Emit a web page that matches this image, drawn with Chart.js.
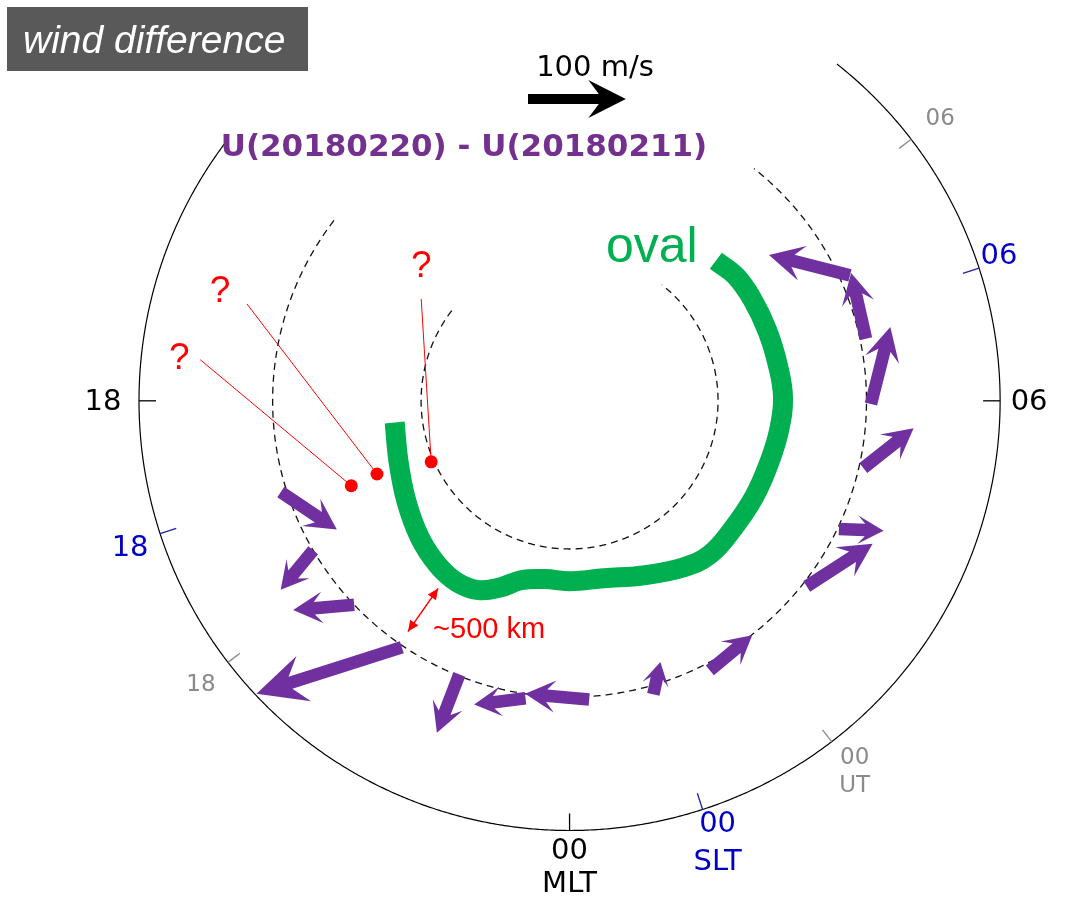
<!DOCTYPE html>
<html>
<head>
<meta charset="utf-8">
<title>wind difference</title>
<script src="https://cdn.jsdelivr.net/npm/chart.js@4.4.1/dist/chart.umd.min.js"></script>
<style>
  html, body { margin: 0; padding: 0; background: #ffffff; overflow: hidden; }
  #wrap { width: 1067px; height: 915px; }
</style>
</head>
<body>
<div id="wrap"><canvas id="polar" width="1067" height="915"></canvas></div>
<script>
// Thermospheric wind difference U(20180220) - U(20180211), MLT / MLAT polar view (north pole at centre)

// wind-difference vectors: tail position, east (toward later MLT) and north (poleward) components in m/s
const windMLT   = [19.17, 20.02, 20.90, 21.72, 22.54, 0.25, 23.44, 1.06, 1.83, 3.46, 4.30, 5.14, 5.96, 6.79, 7.61];
const windMLAT  = [69.6, 70.0, 70.0, 69.9, 70.1, 69.8, 69.7, 69.4, 69.5, 69.7, 69.9, 69.7, 69.7, 69.6, 69.3];
const windEast  = [54, 18, -39, -96, 1, -65, -51, 16, 55, 76, 18, 51, 79, 69, 53];
const windNorth = [43, -49, -49, -123, -64, 10, -14, 30, 12, -26, -42, -41, -19, 1, 67];

// auroral oval trace
const ovalMLT  = [18.47, 19.31, 20.11, 20.82, 21.41, 21.88, 22.29, 22.64, 22.99, 23.47, 0.00, 0.73, 1.53,
                  2.28, 2.82, 3.45, 4.17, 4.85, 5.46, 6.05, 6.63, 7.29, 7.94, 8.47, 8.92];
const ovalMLAT = [78.13, 77.77, 77.09, 76.34, 75.81, 75.60, 75.83, 76.55, 77.45, 77.85, 77.82, 77.80, 77.21,
                  76.40, 75.97, 76.02, 75.98, 75.92, 75.75, 75.62, 75.76, 75.86, 75.91, 75.99, 76.35];

// unexplained features marked with "?"
const markMLT  = [19.42, 19.39, 19.59];
const markMLAT = [74.22, 76.12, 79.81];

// distance between the 70° ring and the oval
const gapMLT  = 21.67;
const gapMLAT = [71.0, 74.55];

// rings, hour ticks and the reference vector
const outerMLAT = 61;
const ringMLAT  = [80, 70];
const ringFromMLT = 15.5, ringToMLT = 9.45;
const mltTicks = [18, 6, 0],       mltTickLabels = ['18', '06', '00'];
const sltTicks = [19.2, 7.2, 1.2], sltTickLabels = ['18', '06', '00'];
const utTicks  = [20.5, 8.5, 2.5], utTickLabels  = ['18', '06', '00'];
const refSpeed = 100; // m/s

// ---------------------------------------------------------------------------
const PURPLE = '#7030A0', GREEN = '#00B050', RED = '#FF0000';
const ARROW_DEG_PER_MS = 0.0659;   // vector length in degrees of colatitude per m/s

function polarXY(mlt, mlat) {
  const th = (mlt - 6) * Math.PI / 12;
  const c = 90 - mlat;
  return { x: c * Math.cos(th), y: c * Math.sin(th) };
}

const tickStyle = [
  { ticks: mltTicks, labels: mltTickLabels, color: '#000000', tick: '#000000', font: '29px "DejaVu Sans"', len: 17,
    offs: [[-36, 2], [29, 2], [0, 21]], sub: { text: 'MLT', off: [0, 54] } },
  { ticks: sltTicks, labels: sltTickLabels, color: '#0000C8', tick: '#2020A0', font: '29px "DejaVu Sans"', len: 17,
    offs: [[-30, 15], [20, -12], [15, 15]], sub: { text: 'SLT', off: [15, 53] } },
  { ticks: utTicks, labels: utTickLabels, color: '#8A8A8A', tick: '#8A8A8A', font: '23px "DejaVu Sans"', len: 15,
    offs: [[-27, 23], [29, -20], [23, 16]], sub: { text: 'UT', off: [23, 44] } }
];

// callouts: line end and "?" position relative to each marked dot, in px
const callouts = [
  { line: [-151, -126], label: [-172, -127] },
  { line: [-130, -170], label: [-157, -182] },
  { line: [-10, -163],  label: [-10, -195] }
];

function arrowPath(ctx, x0, y0, x1, y1, shaftHalf) {
  const dx = x1 - x0, dy = y1 - y0, L = Math.hypot(dx, dy);
  if (L < 1) return;
  const ux = dx / L, uy = dy / L, vx = -uy, vy = ux;
  const H = Math.min(16 + 0.22 * L, 0.85 * L);
  const W = 0.4 * H + 4;
  const J = 0.72 * H;
  const s = shaftHalf;
  ctx.beginPath();
  ctx.moveTo(x0 + vx * s, y0 + vy * s);
  ctx.lineTo(x1 - ux * J + vx * s, y1 - uy * J + vy * s);
  ctx.lineTo(x1 - ux * H + vx * W, y1 - uy * H + vy * W);
  ctx.lineTo(x1, y1);
  ctx.lineTo(x1 - ux * H - vx * W, y1 - uy * H - vy * W);
  ctx.lineTo(x1 - ux * J - vx * s, y1 - uy * J - vy * s);
  ctx.lineTo(x0 - vx * s, y0 - vy * s);
  ctx.closePath();
  ctx.fill();
}

function smallHead(ctx, xt, yt, xf, yf, len, half) {
  const dx = xt - xf, dy = yt - yf, L = Math.hypot(dx, dy);
  const ux = dx / L, uy = dy / L, vx = -uy, vy = ux;
  ctx.beginPath();
  ctx.moveTo(xt, yt);
  ctx.lineTo(xt - ux * len + vx * half, yt - uy * len + vy * half);
  ctx.lineTo(xt - ux * len - vx * half, yt - uy * len - vy * half);
  ctx.closePath();
  ctx.fill();
}

const overlay = {
  id: 'polarOverlay',
  beforeDatasetsDraw(chart) {
    const ctx = chart.ctx, xs = chart.scales.x, ys = chart.scales.y;
    const P = (x, y) => [xs.getPixelForValue(x), ys.getPixelForValue(y)];
    const PP = (mlt, mlat) => { const q = polarXY(mlt, mlat); return P(q.x, q.y); };
    const [cx, cy] = P(0, 0);

    const ring = (mlat) => {
      ctx.beginPath();
      const end = ringToMLT + 24;
      for (let m = ringFromMLT; m <= end + 1e-9; m += 0.02) {
        const [px, py] = PP(m, mlat);
        if (m === ringFromMLT) ctx.moveTo(px, py); else ctx.lineTo(px, py);
      }
      ctx.stroke();
    };

    ctx.save();
    ctx.strokeStyle = '#000000';
    ctx.lineWidth = 1.2;
    ring(outerMLAT);
    ctx.setLineDash([7, 5]);
    ctx.lineWidth = 1.3;
    ctx.strokeStyle = '#111111';
    ringMLAT.forEach(ring);
    ctx.setLineDash([]);

    // hour ticks and their labels
    ctx.textAlign = 'center';
    ctx.textBaseline = 'middle';
    tickStyle.forEach(st => {
      st.ticks.forEach((t, i) => {
        const [ox, oy] = PP(t, outerMLAT);
        const d = Math.hypot(ox - cx, oy - cy);
        const ux = (ox - cx) / d, uy = (oy - cy) / d;
        ctx.strokeStyle = st.tick;
        ctx.lineWidth = 1.3;
        ctx.beginPath();
        ctx.moveTo(ox, oy);
        ctx.lineTo(ox - ux * st.len, oy - uy * st.len);
        ctx.stroke();
        ctx.fillStyle = st.color;
        ctx.font = st.font;
        ctx.fillText(st.labels[i], ox + st.offs[i][0], oy + st.offs[i][1]);
        if (st.labels[i] === '00') ctx.fillText(st.sub.text, ox + st.sub.off[0], oy + st.sub.off[1]);
      });
    });

    // callout lines to the marked features
    ctx.strokeStyle = RED;
    ctx.lineWidth = 1;
    markMLT.forEach((m, i) => {
      const [dx, dy] = PP(m, markMLAT[i]);
      ctx.beginPath();
      ctx.moveTo(dx, dy);
      ctx.lineTo(dx + callouts[i].line[0], dy + callouts[i].line[1]);
      ctx.stroke();
    });
    ctx.restore();
  },
  afterDatasetsDraw(chart) {
    const ctx = chart.ctx, xs = chart.scales.x, ys = chart.scales.y;
    const P = (x, y) => [xs.getPixelForValue(x), ys.getPixelForValue(y)];
    const PP = (mlt, mlat) => { const q = polarXY(mlt, mlat); return P(q.x, q.y); };
    ctx.save();

    // wind-difference vectors
    ctx.fillStyle = PURPLE;
    windMLT.forEach((m, i) => {
      const th = (m - 6) * Math.PI / 12;
      const q = polarXY(m, windMLAT[i]);
      const ex = -Math.sin(th), ey = Math.cos(th);
      const nx = -Math.cos(th), ny = -Math.sin(th);
      const tx = q.x + ARROW_DEG_PER_MS * (windEast[i] * ex + windNorth[i] * nx);
      const ty = q.y + ARROW_DEG_PER_MS * (windEast[i] * ey + windNorth[i] * ny);
      const [x0, y0] = P(q.x, q.y);
      const [x1, y1] = P(tx, ty);
      arrowPath(ctx, x0, y0, x1, y1, 6.3);
    });

    // reference vector
    const pxPerMs = xs.getPixelForValue(ARROW_DEG_PER_MS) - xs.getPixelForValue(0);
    ctx.fillStyle = '#000000';
    arrowPath(ctx, 528, 99, 528 + refSpeed * pxPerMs, 99, 5);
    ctx.font = '29px "DejaVu Sans"';
    ctx.textAlign = 'center';
    ctx.textBaseline = 'middle';
    ctx.fillText(refSpeed + ' m/s', 595, 68);

    // title
    ctx.fillStyle = '#73308F';
    ctx.font = 'bold 31px "DejaVu Sans"';
    ctx.fillText('U(20180220) - U(20180211)', 464, 148);

    // oval label
    ctx.fillStyle = GREEN;
    ctx.font = '50px "Liberation Sans"';
    ctx.textAlign = 'left';
    ctx.textBaseline = 'alphabetic';
    ctx.fillText('oval', 606, 262);

    // "?" labels
    ctx.fillStyle = RED;
    ctx.font = '37px "Liberation Sans"';
    ctx.textAlign = 'center';
    ctx.textBaseline = 'middle';
    markMLT.forEach((m, i) => {
      const [dx, dy] = PP(m, markMLAT[i]);
      ctx.fillText('?', dx + callouts[i].label[0], dy + callouts[i].label[1]);
    });

    // distance marker between the 70° ring and the oval
    const [ax, ay] = PP(gapMLT, gapMLAT[0]);
    const [bx, by] = PP(gapMLT, gapMLAT[1]);
    ctx.strokeStyle = RED;
    ctx.lineWidth = 1.5;
    ctx.beginPath();
    ctx.moveTo(ax, ay);
    ctx.lineTo(bx, by);
    ctx.stroke();
    smallHead(ctx, ax, ay, bx, by, 11, 5);
    smallHead(ctx, bx, by, ax, ay, 11, 5);
    ctx.font = '29px "Liberation Sans"';
    ctx.textAlign = 'left';
    ctx.textBaseline = 'alphabetic';
    ctx.fillText('~500 km', (ax + bx) / 2 + 10, (ay + by) / 2 + 28);

    // panel tag
    ctx.fillStyle = '#595959';
    ctx.fillRect(7, 7, 301, 64);
    ctx.fillStyle = '#FFFFFF';
    ctx.font = 'italic 39px "Liberation Sans"';
    ctx.textAlign = 'left';
    ctx.fillText('wind difference', 23, 53);

    ctx.restore();
  }
};

new Chart(document.getElementById('polar'), {
  type: 'scatter',
  data: {
    datasets: [
      {
        label: 'marks',
        data: markMLT.map((m, i) => polarXY(m, markMLAT[i])),
        pointRadius: 6.5,
        pointBackgroundColor: RED,
        pointBorderWidth: 0,
        showLine: false
      },
      {
        label: 'oval',
        data: ovalMLT.map((m, i) => polarXY(m, ovalMLAT[i])),
        showLine: true,
        borderColor: GREEN,
        borderWidth: 20,
        borderCapStyle: 'butt',
        borderJoinStyle: 'round',
        tension: 0.4,
        pointRadius: 0,
        fill: false
      }
    ]
  },
  options: {
    responsive: false,
    animation: false,
    devicePixelRatio: 1,
    layout: { padding: 0 },
    plugins: { legend: { display: false }, tooltip: { enabled: false }, title: { display: false } },
    scales: {
      x: { type: 'linear', display: false, min: -37.925, max: 33.067 },
      y: { type: 'linear', display: false, min: -34.265, max: 26.613 }
    }
  },
  plugins: [overlay]
});
</script>
</body>
</html>
